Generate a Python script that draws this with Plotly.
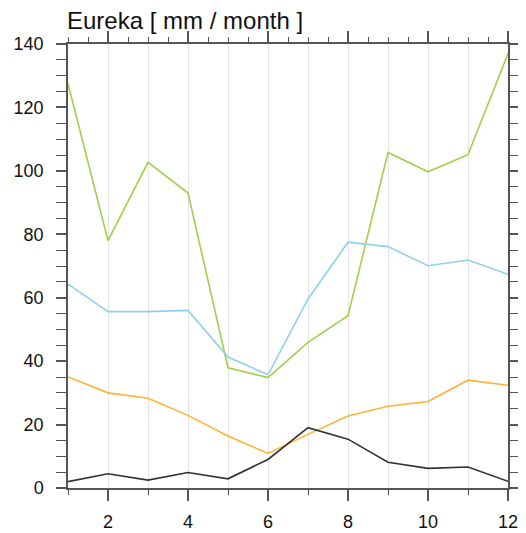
import plotly.graph_objects as go

months = list(range(1, 13))
green = [127.5, 78.0, 102.7, 93.0, 37.9, 34.8, 45.9, 54.3, 105.8, 99.7, 105.1, 137.0]
blue = [64.3, 55.6, 55.6, 56.0, 41.3, 35.7, 59.6, 77.5, 76.1, 70.1, 71.9, 67.4]
orange = [35.0, 30.0, 28.3, 22.9, 16.4, 10.9, 16.9, 22.7, 25.8, 27.3, 34.0, 32.4]
black = [2.0, 4.5, 2.5, 4.9, 2.9, 9.0, 19.0, 15.4, 8.1, 6.2, 6.6, 2.1]

title_text = "Eureka [ mm / month ]"
xtick_vals = [2, 4, 6, 8, 10, 12]
ytick_vals = [0, 20, 40, 60, 80, 100, 120, 140]

series = [
    (green, "#9fd04a"),
    (blue, "#8fd0ee"),
    (orange, "#ffb235"),
    (black, "#333333"),
]

fig = go.Figure()
for vals, col in series:
    fig.add_trace(go.Scatter(x=months, y=vals, mode="lines",
                             line=dict(color=col, width=1.6),
                             showlegend=False, hoverinfo="skip"))
fig.add_trace(go.Scatter(x=[months[0]], y=[black[0]], xaxis="x2", mode="lines",
                         showlegend=False, hoverinfo="skip", opacity=0))

axcol = "#555555"
font = dict(family="Liberation Sans, Arial, sans-serif", size=18, color="#111111")

W, H = 518, 525
fig.update_layout(
    width=W, height=H,
    margin=dict(l=60, r=18, t=36, b=45, pad=0),
    plot_bgcolor="white", paper_bgcolor="white",
    font=font,
    title=dict(text=title_text, x=59/W, xanchor="left", y=1 - 4/H, yanchor="top",
               font=dict(family="Liberation Sans, Arial, sans-serif", size=24, color="#111111")),
    xaxis=dict(range=[1, 12], tickmode="array", tickvals=xtick_vals, automargin=False,
               ticks="outside", ticklen=11, tickwidth=1.5, tickcolor=axcol,
               showline=True, linecolor=axcol, linewidth=1.5,
               showgrid=True, gridcolor="#e4e4e4", gridwidth=1,
               minor=dict(dtick=1, tick0=1, ticks="outside", ticklen=5, tickcolor=axcol,
                          tickwidth=1, showgrid=True, gridcolor="#e4e4e4", gridwidth=1),
               zeroline=False, ticklabelstandoff=6, tickfont=font),
    xaxis2=dict(range=[1, 12], overlaying="x", side="top", anchor="y", automargin=False,
                tickmode="array", tickvals=xtick_vals, showticklabels=False,
                ticks="outside", ticklen=11, tickwidth=1.5, tickcolor=axcol,
                showline=True, linecolor=axcol, linewidth=1.5, showgrid=False,
                minor=dict(dtick=0.5, tick0=1, ticks="outside", ticklen=5, tickcolor=axcol,
                           tickwidth=1, showgrid=False),
                zeroline=False),
    yaxis=dict(range=[0, 140], tickmode="array", tickvals=ytick_vals, automargin=False,
               ticks="outside", ticklen=10, tickwidth=1.5, tickcolor=axcol,
               showline=True, linecolor=axcol, linewidth=1.5, mirror="allticks",
               showgrid=False, zeroline=False,
               minor=dict(dtick=5, tick0=0, ticks="outside", ticklen=5, tickcolor=axcol,
                          tickwidth=1, showgrid=False),
               ticklabelstandoff=9, tickfont=font),
)

fig.write_html("out.html")
